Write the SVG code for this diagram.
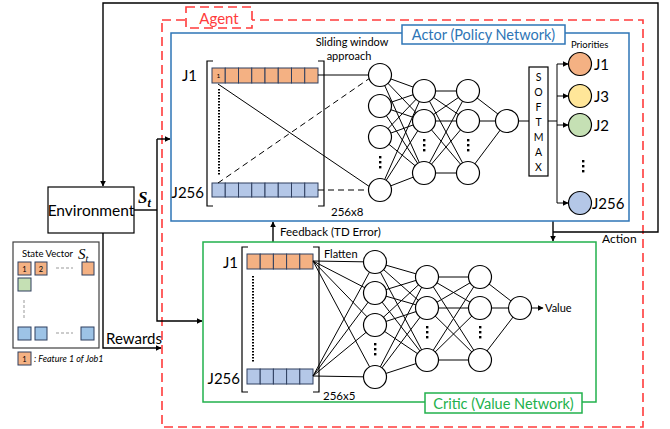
<svg xmlns="http://www.w3.org/2000/svg" width="670" height="429" viewBox="0 0 670 429">
<defs>
<marker id="ah" viewBox="0 0 10 10" refX="9" refY="5" markerWidth="6" markerHeight="6" orient="auto" markerUnits="userSpaceOnUse"><path d="M0,0 L10,5 L0,10 z" fill="#000"/></marker>
<style>
text{font-family:"Lato","Open Sans","Liberation Sans",sans-serif;fill:#000}
.ln{stroke:#000;stroke-width:1;fill:none}
.conn{stroke:#000;stroke-width:1.4;fill:none}
.node{fill:#fff;stroke:#000;stroke-width:1.2}
.cell{stroke:#2F3F5F;stroke-width:1}
.or{fill:#F4B183}
.bl{fill:#B4C7E7}
.br{stroke:#000;stroke-width:1.2;fill:none}
.dot{fill:#000}
.red{stroke:#FF3B3B;stroke-width:1.6;fill:none;stroke-dasharray:9,5}
</style>
</defs>
<rect width="670" height="429" fill="#fff"/>

<!-- Agent box -->
<g id="agent">
<rect class="red" x="162" y="20" width="481" height="407"/>
<rect x="186" y="7" width="66" height="21" fill="#fff" stroke="#FF3B3B" stroke-width="1.6" stroke-dasharray="9,5"/>
<text x="219" y="24" text-anchor="middle" font-size="15" style="fill:#FF3B3B">Agent</text>
</g>

<!-- connectors -->
<g id="connectors">
<polyline class="conn" points="553,232 658,232 658,3 103,3 103,186" marker-end="url(#ah)"/>
<line class="conn" x1="553" y1="221" x2="553" y2="241" marker-end="url(#ah)"/>
<line class="conn" x1="273" y1="242" x2="273" y2="222" marker-end="url(#ah)"/>
<polyline class="conn" points="134,210 157,210"/>
<polyline class="conn" points="157,139 157,321 202,321" marker-end="url(#ah)"/>
<line class="conn" x1="157" y1="139" x2="170" y2="139" marker-end="url(#ah)"/>
<polyline class="conn" points="103,233 103,348 161,348" marker-end="url(#ah)"/>
</g>

<g id="labels">
<text x="602" y="243" font-size="12">Action</text>
<text x="280" y="236" font-size="11.5">Feedback (TD Error)</text>
<text x="106" y="344" font-size="15">Rewards</text>
<text x="138" y="203" font-size="17" font-style="italic" font-weight="bold" style="font-family:'Liberation Serif',serif">S<tspan font-size="12" dy="4" font-weight="bold">t</tspan></text>
</g>

<!-- Environment -->
<g id="environment">
<rect x="48" y="187" width="86" height="46" fill="#fff" stroke="#000" stroke-width="1.2"/>
<text x="91" y="216" font-size="15.5" text-anchor="middle">Environment</text>
</g>

<!-- State vector -->
<g id="state-vector">
<rect x="13" y="242" width="86" height="106" fill="#fff" stroke="#404040" stroke-width="1.2"/>
<text x="22" y="257" font-size="9.5">State Vector</text>
<text x="78" y="259" font-size="15" style="font-family:'Liberation Serif',serif;font-style:italic">S<tspan font-size="10" dy="3">t</tspan></text>
<rect x="18" y="262" width="13" height="13" class="cell or"/><text x="24.5" y="272" font-size="7.5" text-anchor="middle">1</text>
<rect x="35" y="262" width="12" height="13" class="cell or"/><text x="41" y="272" font-size="7.5" text-anchor="middle">2</text>
<line x1="56" y1="268" x2="73" y2="268" stroke="#999" stroke-dasharray="3,2"/>
<rect x="82" y="262" width="12" height="13" class="cell or"/>
<rect x="18" y="278" width="13" height="13" class="cell" fill="#C5E0B4"/>
<line x1="24" y1="300" x2="24" y2="318" stroke="#999" stroke-dasharray="3,2"/>
<rect x="18" y="327" width="13" height="13" class="cell" fill="#9DC3E6"/>
<rect x="35" y="327" width="12" height="13" class="cell" fill="#9DC3E6"/>
<line x1="56" y1="333" x2="73" y2="333" stroke="#999" stroke-dasharray="3,2"/>
<rect x="81" y="327" width="13" height="13" class="cell" fill="#9DC3E6"/>
</g>
<g id="legend">
<rect x="18" y="352" width="13" height="13" class="cell or"/><text x="24.5" y="362" font-size="7.5" text-anchor="middle">1</text>
<text x="34" y="362" font-size="9" font-style="italic">: Feature 1 of Job1</text>
</g>

<!-- Actor -->
<g id="actor">
<rect x="171" y="33" width="458" height="188" fill="none" stroke="#2E75B6" stroke-width="1.5"/>
<rect x="402" y="25" width="163" height="19" fill="#fff" stroke="#2E75B6" stroke-width="1.5"/>
<text x="483.5" y="40" font-size="14.5" text-anchor="middle" style="fill:#2E75B6">Actor (Policy Network)</text>
<text x="352" y="46" font-size="11" text-anchor="middle">Sliding window</text>
<text x="349" y="60" font-size="11" text-anchor="middle">approach</text>
<text x="571" y="48" font-size="9.5">Priorities</text>
<text x="331" y="216" font-size="11.5">256x8</text>
<text x="197" y="81" font-size="15" text-anchor="end">J1</text>
<text x="204" y="198" font-size="15" text-anchor="end">J256</text>
<!-- brackets -->
<polyline class="br" points="213,61 207,61 207,206 213,206"/>
<polyline class="br" points="318,61 324,61 324,206 318,206"/>
<!-- rows -->
<g class="cell or">
<rect x="212" y="68" width="13.25" height="15"/><rect x="225.25" y="68" width="13.25" height="15"/><rect x="238.5" y="68" width="13.25" height="15"/><rect x="251.75" y="68" width="13.25" height="15"/><rect x="265" y="68" width="13.25" height="15"/><rect x="278.25" y="68" width="13.25" height="15"/><rect x="291.5" y="68" width="13.25" height="15"/><rect x="304.75" y="68" width="13.25" height="15"/>
</g>
<text x="218.5" y="78" font-size="6.5" text-anchor="middle">1</text>
<g class="cell bl">
<rect x="212" y="183" width="13.25" height="14"/><rect x="225.25" y="183" width="13.25" height="14"/><rect x="238.5" y="183" width="13.25" height="14"/><rect x="251.75" y="183" width="13.25" height="14"/><rect x="265" y="183" width="13.25" height="14"/><rect x="278.25" y="183" width="13.25" height="14"/><rect x="291.5" y="183" width="13.25" height="14"/><rect x="304.75" y="183" width="13.25" height="14"/>
</g>
<line x1="219" y1="89" x2="219" y2="176" stroke="#000" stroke-width="2" stroke-dasharray="1.5,1.5"/>
<!-- input connections -->
<line class="ln" x1="218" y1="84" x2="370" y2="187"/>
<line class="ln" x1="218" y1="183" x2="370" y2="78" stroke-dasharray="6,4"/>
<line class="ln" x1="318" y1="75" x2="369" y2="75"/>
<line class="ln" x1="318" y1="190" x2="369" y2="190" stroke-dasharray="6,4"/>
<!-- hidden connections -->
<g class="ln">
<line x1="380" y1="75" x2="424" y2="91"/><line x1="380" y1="75" x2="424" y2="121"/><line x1="380" y1="75" x2="424" y2="173"/>
<line x1="380" y1="106" x2="424" y2="91"/><line x1="380" y1="106" x2="424" y2="121"/><line x1="380" y1="106" x2="424" y2="173"/>
<line x1="380" y1="137" x2="424" y2="91"/><line x1="380" y1="137" x2="424" y2="121"/><line x1="380" y1="137" x2="424" y2="173"/>
<line x1="380" y1="190" x2="424" y2="91"/><line x1="380" y1="190" x2="424" y2="121"/><line x1="380" y1="190" x2="424" y2="173"/>
<line x1="424" y1="91" x2="468" y2="91"/><line x1="424" y1="91" x2="468" y2="121"/><line x1="424" y1="91" x2="468" y2="173"/>
<line x1="424" y1="121" x2="468" y2="91"/><line x1="424" y1="121" x2="468" y2="121"/><line x1="424" y1="121" x2="468" y2="173"/>
<line x1="424" y1="173" x2="468" y2="91"/><line x1="424" y1="173" x2="468" y2="121"/><line x1="424" y1="173" x2="468" y2="173"/>
<line x1="468" y1="91" x2="507" y2="121"/><line x1="468" y1="121" x2="507" y2="121"/><line x1="468" y1="173" x2="507" y2="121"/>
<line x1="507" y1="121" x2="529" y2="121"/>
</g>
<g class="node">
<circle cx="380" cy="75" r="11.5"/><circle cx="380" cy="106" r="11.5"/><circle cx="380" cy="137" r="11.5"/><circle cx="380" cy="190" r="11.5"/>
<circle cx="424" cy="91" r="11.5"/><circle cx="424" cy="121" r="11.5"/><circle cx="424" cy="173" r="11.5"/>
<circle cx="468" cy="91" r="11.5"/><circle cx="468" cy="121" r="11.5"/><circle cx="468" cy="173" r="11.5"/>
<circle cx="507" cy="121" r="11.5"/>
</g>
<g class="dot">
<rect x="379" y="156" width="2.4" height="2.4"/><rect x="379" y="161" width="2.4" height="2.4"/><rect x="379" y="166" width="2.4" height="2.4"/>
<rect x="423" y="139" width="2.4" height="2.4"/><rect x="423" y="144" width="2.4" height="2.4"/><rect x="423" y="149" width="2.4" height="2.4"/>
<rect x="467" y="139" width="2.4" height="2.4"/><rect x="467" y="144" width="2.4" height="2.4"/><rect x="467" y="149" width="2.4" height="2.4"/>
<rect x="582" y="160" width="2.4" height="2.4"/><rect x="582" y="165" width="2.4" height="2.4"/><rect x="582" y="170" width="2.4" height="2.4"/>
</g>
<!-- softmax -->
<rect x="529" y="67" width="19" height="109" fill="#fff" stroke="#000" stroke-width="1.2"/>
<g font-size="10.5" text-anchor="middle">
<text x="538.5" y="81">S</text><text x="538.5" y="96">O</text><text x="538.5" y="111">F</text><text x="538.5" y="126">T</text><text x="538.5" y="141">M</text><text x="538.5" y="156">A</text><text x="538.5" y="171">X</text>
</g>
<polyline class="ln" points="548,121 557,121"/>
<line class="ln" x1="557" y1="64" x2="557" y2="203"/>
<g class="ln">
<line x1="557" y1="64" x2="568" y2="64" marker-end="url(#ah)"/>
<line x1="557" y1="96" x2="568" y2="96" marker-end="url(#ah)"/>
<line x1="557" y1="125" x2="568" y2="125" marker-end="url(#ah)"/>
<line x1="557" y1="203" x2="568" y2="203" marker-end="url(#ah)"/>
</g>
<circle cx="580" cy="64" r="11.5" fill="#F4B183" stroke="#000" stroke-width="1.2"/>
<circle cx="580" cy="96" r="11.5" fill="#FFE699" stroke="#000" stroke-width="1.2"/>
<circle cx="580" cy="125" r="11.5" fill="#C5E0B4" stroke="#000" stroke-width="1.2"/>
<circle cx="580" cy="203" r="11.5" fill="#B4C7E7" stroke="#000" stroke-width="1.2"/>
<g font-size="15">
<text x="594" y="70">J1</text><text x="594" y="102">J3</text><text x="594" y="131">J2</text><text x="592" y="209">J256</text>
</g>
</g>

<!-- Critic -->
<g id="critic">
<rect x="203" y="242" width="393" height="160" fill="none" stroke="#22B14C" stroke-width="1.5"/>
<rect x="425" y="393" width="157" height="20" fill="#fff" stroke="#22B14C" stroke-width="1.5"/>
<text x="503.5" y="409" font-size="14.5" text-anchor="middle" style="fill:#22B14C">Critic (Value Network)</text>
<text x="324" y="258" font-size="11">Flatten</text>
<text x="323" y="400" font-size="11.5">256x5</text>
<text x="238" y="268" font-size="15" text-anchor="end">J1</text>
<text x="240" y="384" font-size="15" text-anchor="end">J256</text>
<polyline class="br" points="248,247 242,247 242,392 248,392"/>
<polyline class="br" points="313,247 319,247 319,392 313,392"/>
<g class="cell or">
<rect x="247" y="254" width="13.2" height="15"/><rect x="260.2" y="254" width="13.2" height="15"/><rect x="273.4" y="254" width="13.2" height="15"/><rect x="286.6" y="254" width="13.2" height="15"/><rect x="299.8" y="254" width="13.2" height="15"/>
</g>
<g class="cell bl">
<rect x="247" y="369" width="13.2" height="15"/><rect x="260.2" y="369" width="13.2" height="15"/><rect x="273.4" y="369" width="13.2" height="15"/><rect x="286.6" y="369" width="13.2" height="15"/><rect x="299.8" y="369" width="13.2" height="15"/>
</g>
<line x1="253" y1="276" x2="253" y2="362" stroke="#000" stroke-width="2" stroke-dasharray="1.5,1.5"/>
<g class="ln">
<line x1="313" y1="261" x2="375" y2="262"/><line x1="313" y1="261" x2="375" y2="293"/><line x1="313" y1="261" x2="375" y2="325"/><line x1="313" y1="261" x2="375" y2="377"/>
<line x1="313" y1="376" x2="375" y2="262"/><line x1="313" y1="376" x2="375" y2="293"/><line x1="313" y1="376" x2="375" y2="325"/><line x1="313" y1="376" x2="375" y2="377"/>
<line x1="375" y1="262" x2="427" y2="277"/><line x1="375" y1="262" x2="427" y2="308"/><line x1="375" y1="262" x2="427" y2="360"/>
<line x1="375" y1="293" x2="427" y2="277"/><line x1="375" y1="293" x2="427" y2="308"/><line x1="375" y1="293" x2="427" y2="360"/>
<line x1="375" y1="325" x2="427" y2="277"/><line x1="375" y1="325" x2="427" y2="308"/><line x1="375" y1="325" x2="427" y2="360"/>
<line x1="375" y1="377" x2="427" y2="277"/><line x1="375" y1="377" x2="427" y2="308"/><line x1="375" y1="377" x2="427" y2="360"/>
<line x1="427" y1="277" x2="480" y2="277"/><line x1="427" y1="277" x2="480" y2="308"/><line x1="427" y1="277" x2="480" y2="360"/>
<line x1="427" y1="308" x2="480" y2="277"/><line x1="427" y1="308" x2="480" y2="308"/><line x1="427" y1="308" x2="480" y2="360"/>
<line x1="427" y1="360" x2="480" y2="277"/><line x1="427" y1="360" x2="480" y2="308"/><line x1="427" y1="360" x2="480" y2="360"/>
<line x1="480" y1="277" x2="520" y2="308"/><line x1="480" y1="308" x2="520" y2="308"/><line x1="480" y1="360" x2="520" y2="308"/>
<line x1="520" y1="308" x2="543" y2="308" marker-end="url(#ah)"/>
</g>
<g class="node">
<circle cx="375" cy="262" r="11.5"/><circle cx="375" cy="293" r="11.5"/><circle cx="375" cy="325" r="11.5"/><circle cx="375" cy="377" r="11.5"/>
<circle cx="427" cy="277" r="11.5"/><circle cx="427" cy="308" r="11.5"/><circle cx="427" cy="360" r="11.5"/>
<circle cx="480" cy="277" r="11.5"/><circle cx="480" cy="308" r="11.5"/><circle cx="480" cy="360" r="11.5"/>
<circle cx="520" cy="308" r="11.5"/>
</g>
<g class="dot">
<rect x="374" y="343" width="2.4" height="2.4"/><rect x="374" y="348" width="2.4" height="2.4"/><rect x="374" y="353" width="2.4" height="2.4"/>
<rect x="426" y="326" width="2.4" height="2.4"/><rect x="426" y="331" width="2.4" height="2.4"/><rect x="426" y="336" width="2.4" height="2.4"/>
<rect x="479" y="326" width="2.4" height="2.4"/><rect x="479" y="331" width="2.4" height="2.4"/><rect x="479" y="336" width="2.4" height="2.4"/>
</g>
<text x="545" y="312" font-size="11">Value</text>
</g>
</svg>
